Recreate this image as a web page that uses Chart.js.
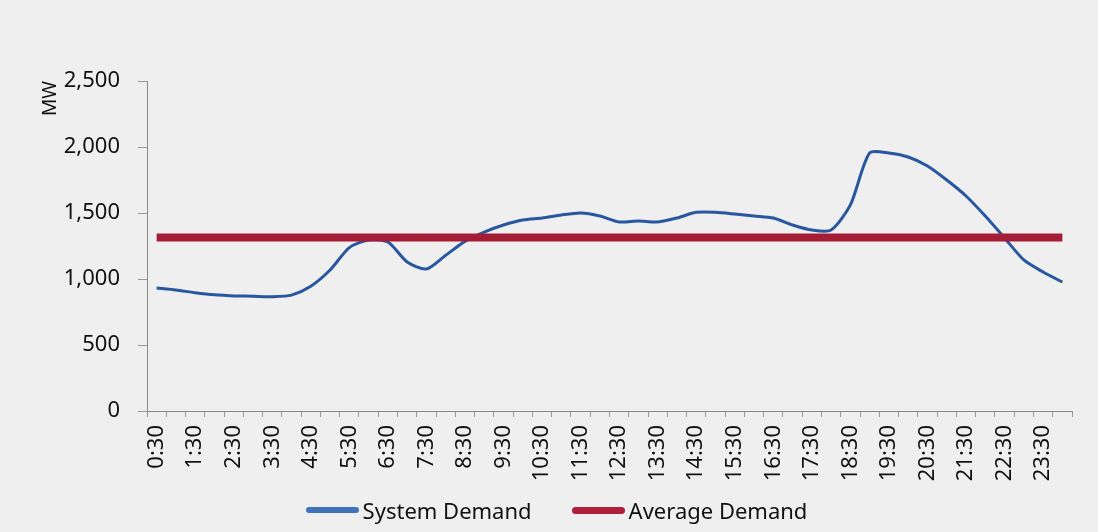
<!DOCTYPE html>
<html>
<head>
<meta charset="utf-8">
<script src="https://cdn.jsdelivr.net/npm/chart.js@4.4.0/dist/chart.umd.min.js"></script>
<style>
  html, body { margin: 0; padding: 0; background: #eeefee; }
  #wrap { width: 1098px; height: 532px; position: relative; }
  #legend {
    position: absolute; left: 15px; right: 0; top: 496px; height: 28px;
    display: flex; justify-content: center; align-items: center;
    font-family: "Noto Sans", sans-serif; font-size: 22px; color: #111;
  }
  #legend .item { display: flex; align-items: center; margin: 0 20px; }
  #legend .swatch { width: 53px; border-radius: 4px; margin-right: 4px; }
</style>
</head>
<body>
<div id="wrap">
  <canvas id="demandChart"></canvas>
  <div id="legend"></div>
</div>
<script>
// half-hourly periods, 0:30 .. 24:00
const periods = [
  '0:30', '1:00', '1:30', '2:00', '2:30', '3:00', '3:30', '4:00',
  '4:30', '5:00', '5:30', '6:00', '6:30', '7:00', '7:30', '8:00',
  '8:30', '9:00', '9:30', '10:00', '10:30', '11:00', '11:30', '12:00',
  '12:30', '13:00', '13:30', '14:00', '14:30', '15:00', '15:30', '16:00',
  '16:30', '17:00', '17:30', '18:00', '18:30', '19:00', '19:30', '20:00',
  '20:30', '21:00', '21:30', '22:00', '22:30', '23:00', '23:30', '24:00'
];
const systemDemand = [
  932, 917, 896, 880, 872, 870, 866, 878,
  945, 1068, 1238, 1295, 1280, 1129, 1076, 1180,
  1285, 1356, 1409, 1447, 1462, 1485, 1500, 1477,
  1432, 1439, 1432, 1462, 1505, 1505, 1492, 1477,
  1462, 1409, 1371, 1371, 1561, 1955, 1955, 1924,
  1856, 1750, 1629, 1477, 1311, 1144, 1053, 977
];
const averageDemand = periods.map(() => 1315);
const yTicks = [0, 500, 1000, 1500, 2000, 2500];

const bgPlugin = {
    id: 'bg',
    beforeDraw(chart) {
        const ctx = chart.ctx;
        ctx.save();
        ctx.fillStyle = '#eeefee';
        ctx.fillRect(0, 0, chart.width, chart.height);
        ctx.restore();
    }
};

const fontFam = '"Noto Sans", sans-serif';

const ctx = document.getElementById('demandChart').getContext('2d');
const demandChart = new Chart(ctx, {
    type: 'line',
    data: {
        labels: periods,
        datasets: [{
            label: 'System Demand',
            data: systemDemand,
            borderColor: '#2857a0',
            backgroundColor: '#3f72b8',
            borderWidth: 3,
            pointRadius: 0,
            tension: 0.25,
            order: 1
        }, {
            label: 'Average Demand',
            data: averageDemand,
            borderColor: '#a51c35',
            backgroundColor: '#ad1f3b',
            borderWidth: 8,
            pointRadius: 0,
            tension: 0,
            order: 0
        }]
    },
    options: {
        responsive: true,
        maintainAspectRatio: false,
        animation: false,
        layout: { padding: { left: 27, right: 26, top: 81, bottom: 41 } },
        plugins: {
            legend: { display: false },
            tooltip: { enabled: false }
        },
        scales: {
            x: {
                offset: true,
                afterFit: (scale) => { scale.height = 80; },
                grid: {
                    offset: true,
                    drawOnChartArea: false,
                    drawTicks: true,
                    tickLength: 6,
                    color: '#999'
                },
                border: { color: '#888', width: 1 },
                ticks: {
                    autoSkip: false,
                    maxRotation: 90,
                    minRotation: 90,
                    padding: 8,
                    color: '#111',
                    font: { family: fontFam, size: 22 },
                    callback: function (val, i) {
                        return i % 2 === 0 ? periods[i] : '';
                    }
                }
            },
            y: {
                min: 0,
                max: 2500,
                afterBuildTicks: (axis) => {
                    axis.ticks = yTicks.map(v => ({ value: v }));
                },
                afterFit: (scale) => { scale.width = 120; },
                grid: {
                    drawOnChartArea: false,
                    drawTicks: true,
                    tickLength: 9,
                    color: '#999'
                },
                border: { color: '#888', width: 1 },
                title: {
                    display: true,
                    text: 'MW',
                    align: 'end',
                    color: '#111',
                    padding: { top: 12, bottom: 0 },
                    font: { family: fontFam, size: 19 }
                },
                ticks: {
                    padding: 18,
                    color: '#111',
                    font: { family: fontFam, size: 22 },
                    callback: (v) => v.toLocaleString('en-US')
                }
            }
        }
    },
    plugins: [bgPlugin]
});

// html legend built from the datasets
const legendEl = document.getElementById('legend');
demandChart.data.datasets.forEach((ds) => {
    const item = document.createElement('div');
    item.className = 'item';
    const sw = document.createElement('span');
    sw.className = 'swatch';
    sw.style.background = ds.backgroundColor;
    sw.style.height = (ds.borderWidth > 5 ? 7 : 6) + 'px';
    const txt = document.createElement('span');
    txt.textContent = ds.label;
    item.appendChild(sw);
    item.appendChild(txt);
    legendEl.appendChild(item);
});
</script>
</body>
</html>
